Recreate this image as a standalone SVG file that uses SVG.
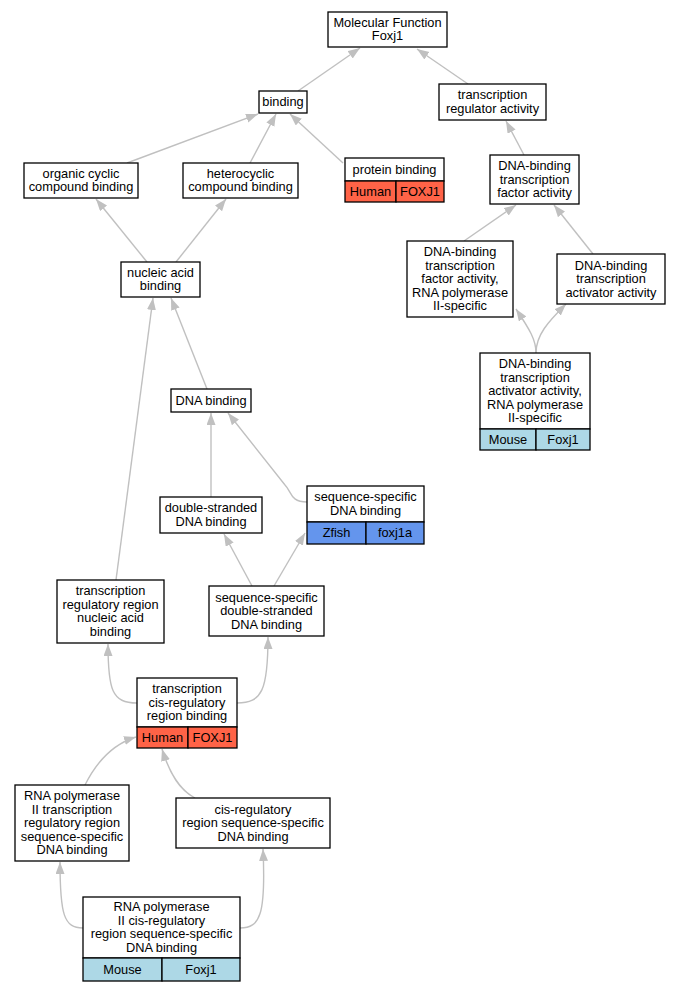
<svg xmlns="http://www.w3.org/2000/svg" width="681" height="992" viewBox="0 0 681 992">
<style>
text{font-family:"Liberation Sans",Arial,sans-serif;font-size:12.8px;fill:#000;text-anchor:middle}
.n{fill:#fff;stroke:#000;stroke-width:1.3}
.h{fill:#ff6347;stroke:#000;stroke-width:1.3}
.z{fill:#6495ed;stroke:#000;stroke-width:1.3}
.m{fill:#add8e6;stroke:#000;stroke-width:1.3}
.e{fill:none;stroke:#c0c0c0;stroke-width:1.4;marker-end:url(#a)}
</style>
<defs>
<marker id="a" markerUnits="userSpaceOnUse" markerWidth="13" markerHeight="10" refX="12" refY="4.5" orient="auto">
<path d="M0,0 L12,4.5 L0,9 z" fill="#c0c0c0"/>
</marker>
</defs>
<rect width="681" height="992" fill="#fff"/>
<g id="edges">
<path class="e" d="M298,91 L360,48"/>
<path class="e" d="M468,84 L417,49"/>
<path class="e" d="M127,163 L258,114"/>
<path class="e" d="M250,163 L276,114"/>
<path class="e" d="M343,163 L290,114"/>
<path class="e" d="M524,155 L506,121"/>
<path class="e" d="M147,262 L96,199"/>
<path class="e" d="M176,262 L226,199"/>
<path class="e" d="M464,241 L516,205"/>
<path class="e" d="M593,254 L554,205"/>
<path class="e" d="M536,353 C536,340 530,330 516,309"/>
<path class="e" d="M536,353 C536,335 548,322 566,304"/>
<path class="e" d="M207,389 L171,298"/>
<path class="e" d="M116,580 L153,298"/>
<path class="e" d="M211,497 L211,413"/>
<path class="e" d="M307,502 C290,502 292,492 285,485 L228,413"/>
<path class="e" d="M252,586 L224,534"/>
<path class="e" d="M274,586 L305,533"/>
<path class="e" d="M137,703 C112,703 108,690 108,644"/>
<path class="e" d="M237,703 C262,703 268,690 268,637"/>
<path class="e" d="M85,785 C95,765 110,745 136,737"/>
<path class="e" d="M195,798 C180,790 170,775 162,749"/>
<path class="e" d="M83,928 C64,928 60,915 60,862"/>
<path class="e" d="M240,928 C260,928 266,915 263,849"/>
</g>
<g id="mf">
<rect class="n" x="328" y="12" width="119" height="35"/>
<text x="387.5" y="26.75">Molecular Function</text>
<text x="387.5" y="40.25">Foxj1</text>
</g>
<g id="binding">
<rect class="n" x="259" y="91" width="48" height="22"/>
<text x="283" y="106">binding</text>
</g>
<g id="tra">
<rect class="n" x="439" y="84" width="107" height="36"/>
<text x="492.5" y="99.25">transcription</text>
<text x="492.5" y="112.75">regulator activity</text>
</g>
<g id="organic">
<rect class="n" x="24" y="163" width="114" height="35"/>
<text x="81" y="177.75">organic cyclic</text>
<text x="81" y="191.25">compound binding</text>
</g>
<g id="hetero">
<rect class="n" x="183" y="163" width="115" height="35"/>
<text x="240.5" y="177.75">heterocyclic</text>
<text x="240.5" y="191.25">compound binding</text>
</g>
<g id="protein">
<rect class="n" x="345" y="158" width="99" height="23"/>
<text x="394.5" y="173.5">protein binding</text>
<rect class="h" x="345" y="181" width="51" height="21"/>
<rect class="h" x="396" y="181" width="48" height="21"/>
<text x="370.5" y="195.5">Human</text>
<text x="420" y="195.5">FOXJ1</text>
</g>
<g id="dbtfa">
<rect class="n" x="490" y="155" width="89" height="49"/>
<text x="534.5" y="170">DNA-binding</text>
<text x="534.5" y="183.5">transcription</text>
<text x="534.5" y="197">factor activity</text>
</g>
<g id="nab">
<rect class="n" x="121" y="262" width="79" height="35"/>
<text x="160.5" y="276.75">nucleic acid</text>
<text x="160.5" y="290.25">binding</text>
</g>
<g id="dbtf2">
<rect class="n" x="407" y="241" width="106" height="76"/>
<text x="460" y="256">DNA-binding</text>
<text x="460" y="269.5">transcription</text>
<text x="460" y="283">factor activity,</text>
<text x="460" y="296.5">RNA polymerase</text>
<text x="460" y="310">II-specific</text>
</g>
<g id="dbtaa">
<rect class="n" x="557" y="254" width="108" height="50"/>
<text x="611" y="269.5">DNA-binding</text>
<text x="611" y="283">transcription</text>
<text x="611" y="296.5">activator activity</text>
</g>
<g id="dbtaa2">
<rect class="n" x="480" y="353" width="110" height="76"/>
<text x="535" y="368">DNA-binding</text>
<text x="535" y="381.5">transcription</text>
<text x="535" y="395">activator activity,</text>
<text x="535" y="408.5">RNA polymerase</text>
<text x="535" y="422">II-specific</text>
<rect class="m" x="480" y="429" width="56" height="21"/>
<rect class="m" x="536" y="429" width="54" height="21"/>
<text x="508" y="443.5">Mouse</text>
<text x="563" y="443.5">Foxj1</text>
</g>
<g id="dnab">
<rect class="n" x="171" y="389" width="80" height="23"/>
<text x="211" y="404.5">DNA binding</text>
</g>
<g id="dsdna">
<rect class="n" x="160" y="497" width="102" height="36"/>
<text x="211" y="512.25">double-stranded</text>
<text x="211" y="525.75">DNA binding</text>
</g>
<g id="ssdna">
<rect class="n" x="307" y="486" width="117" height="36"/>
<text x="365.5" y="501.25">sequence-specific</text>
<text x="365.5" y="514.75">DNA binding</text>
<rect class="z" x="307" y="522" width="59" height="22"/>
<rect class="z" x="366" y="522" width="58" height="22"/>
<text x="336.5" y="537">Zfish</text>
<text x="395" y="537">foxj1a</text>
</g>
<g id="trrna">
<rect class="n" x="57" y="580" width="107" height="63"/>
<text x="110.5" y="595.25">transcription</text>
<text x="110.5" y="608.75">regulatory region</text>
<text x="110.5" y="622.25">nucleic acid</text>
<text x="110.5" y="635.75">binding</text>
</g>
<g id="ssds">
<rect class="n" x="209" y="586" width="115" height="50"/>
<text x="266.5" y="601.5">sequence-specific</text>
<text x="266.5" y="615">double-stranded</text>
<text x="266.5" y="628.5">DNA binding</text>
</g>
<g id="tcrr">
<rect class="n" x="137" y="678" width="100" height="49"/>
<text x="187" y="693">transcription</text>
<text x="187" y="706.5">cis-regulatory</text>
<text x="187" y="720">region binding</text>
<rect class="h" x="137" y="727" width="51" height="21"/>
<rect class="h" x="188" y="727" width="49" height="21"/>
<text x="162.5" y="741.5">Human</text>
<text x="212.5" y="741.5">FOXJ1</text>
</g>
<g id="rp2trr">
<rect class="n" x="15" y="785" width="114" height="76"/>
<text x="72" y="800">RNA polymerase</text>
<text x="72" y="813.5">II transcription</text>
<text x="72" y="827">regulatory region</text>
<text x="72" y="840.5">sequence-specific</text>
<text x="72" y="854">DNA binding</text>
</g>
<g id="cisreg">
<rect class="n" x="176" y="798" width="154" height="50"/>
<text x="253" y="813.5">cis-regulatory</text>
<text x="253" y="827">region sequence-specific</text>
<text x="253" y="840.5">DNA binding</text>
</g>
<g id="rp2cis">
<rect class="n" x="83" y="897" width="157" height="61"/>
<text x="161.5" y="911.25">RNA polymerase</text>
<text x="161.5" y="924.75">II cis-regulatory</text>
<text x="161.5" y="938.25">region sequence-specific</text>
<text x="161.5" y="951.75">DNA binding</text>
<rect class="m" x="83" y="958" width="79" height="23"/>
<rect class="m" x="162" y="958" width="78" height="23"/>
<text x="122.5" y="973.5">Mouse</text>
<text x="201" y="973.5">Foxj1</text>
</g>
</svg>
